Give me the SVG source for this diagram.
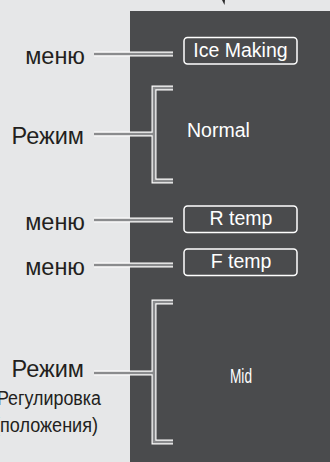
<svg xmlns="http://www.w3.org/2000/svg" width="330" height="462" viewBox="0 0 330 462">
<style>
.lbl{font-family:"Liberation Sans",Arial,sans-serif;font-size:23.5px;fill:#231f20;text-anchor:end}
.sub{font-family:"Liberation Sans Narrow","Liberation Sans",Arial,sans-serif;font-size:20px;fill:#231f20;text-anchor:end}
.box{fill:none;stroke:#ffffff;stroke-width:1.5}
.btxt{font-family:"Liberation Sans",Arial,sans-serif;font-size:19.5px;fill:#ffffff;text-anchor:middle}
.outer{fill:none;stroke:#ffffff;stroke-width:5}
.inner{fill:none;stroke:#8a8b8d;stroke-width:2.6}
</style>
<rect x="0" y="0" width="330" height="462" fill="#e6e7e8"/>
<rect x="130" y="11" width="200" height="451" fill="#4a4b4d"/>
<path d="M222 0 L225 0 L224.5 5 Z" fill="#2a2a2a"/>
<g id="connectors">
<g class="outer">
<path d="M94 54 H173"/>
<path d="M94 134 H154"/>
<path d="M173 88 H154 V181 H173"/>
<path d="M94 220 H173"/>
<path d="M94 265 H173"/>
<path d="M94 373 H154"/>
<path d="M173 302 H154 V442 H173"/>
</g>
<g class="inner">
<path d="M94 54 H173"/>
<path d="M94 134 H154"/>
<path d="M173 88 H154 V181 H173"/>
<path d="M94 220 H173"/>
<path d="M94 265 H173"/>
<path d="M94 373 H154"/>
<path d="M173 302 H154 V442 H173"/>
</g>
</g>
<g id="label-menu1"><text class="lbl" x="85" y="63.5">меню</text></g>
<g id="label-mode1"><text class="lbl" x="84" y="143.5">Режим</text></g>
<g id="label-menu2"><text class="lbl" x="85" y="230">меню</text></g>
<g id="label-menu3"><text class="lbl" x="85" y="275">меню</text></g>
<g id="label-mode2">
<text class="lbl" x="84" y="377">Режим</text>
<text class="sub" x="101" y="405" textLength="110" lengthAdjust="spacingAndGlyphs">(Регулировка</text>
<text class="sub" x="98" y="432" textLength="104" lengthAdjust="spacingAndGlyphs">(положения)</text>
</g>
<g id="ice-making"><rect class="box" x="184" y="37.5" width="113" height="26.5" rx="3.5"/><text class="btxt" x="240.5" y="57">Ice Making</text></g>
<g id="normal"><text font-family="Liberation Sans,Arial,sans-serif" font-size="19.5" fill="#ffffff" x="187" y="137">Normal</text></g>
<g id="r-temp"><rect class="box" x="184" y="206" width="113" height="26.5" rx="3.5"/><text class="btxt" x="241" y="224.5">R temp</text></g>
<g id="f-temp"><rect class="box" x="184" y="249" width="113" height="26.5" rx="3.5"/><text class="btxt" x="241" y="267.5">F temp</text></g>
<g id="mid"><text font-family="Liberation Sans Narrow,Liberation Sans,Arial,sans-serif" font-size="20.5" fill="#ffffff" x="241" y="382.5" text-anchor="middle" textLength="22" lengthAdjust="spacingAndGlyphs">Mid</text></g>
</svg>
